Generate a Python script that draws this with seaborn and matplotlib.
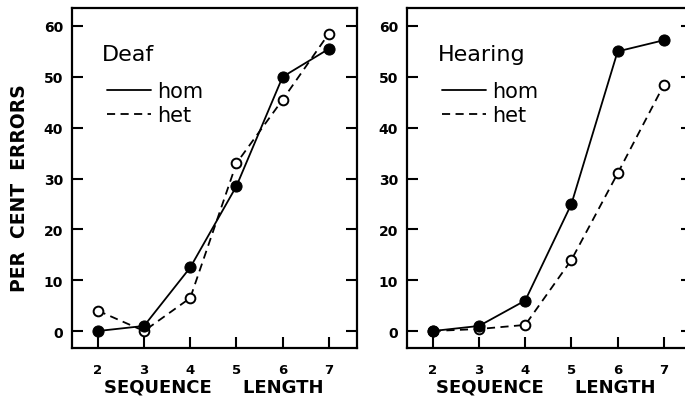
import matplotlib
matplotlib.use("Agg")
import matplotlib.pyplot as plt
from matplotlib.lines import Line2D
import seaborn as sns
import pandas as pd

lengths = [2, 3, 4, 5, 6, 7]
deaf_hom = [0, 1, 12.5, 28.5, 50, 55.5]
deaf_het = [4, 0, 6.5, 33, 45.5, 58.5]
hearing_hom = [0, 1, 6, 25, 55, 57.2]
hearing_het = [0, 0.4, 1.2, 14, 31, 48.4]
y_ticks = [0, 10, 20, 30, 40, 50, 60]
panel_titles = ["Deaf", "Hearing"]
series_labels = ["hom", "het"]

sns.set_theme(style="white")
plt.rcParams['font.family'] = ['DejaVu Sans']
plt.rcParams['text.color'] = 'black'
plt.rcParams['axes.labelcolor'] = 'black'
plt.rcParams['xtick.color'] = 'black'
plt.rcParams['ytick.color'] = 'black'

fig = plt.figure(figsize=(6.85, 4.02), dpi=100)
W, H = 685, 402
ax1 = fig.add_axes([72 / W, 1 - 349 / H, 285 / W, 340 / H])
ax2 = fig.add_axes([407 / W, 1 - 349 / H, 285 / W, 340 / H])

DASH = (0, (4.5, 3))
panels = [(ax1, deaf_hom, deaf_het, panel_titles[0], 0.105),
          (ax2, hearing_hom, hearing_het, panel_titles[1], 0.108)]

for ax, hom, het, title, tx in panels:
    df_hom = pd.DataFrame({"length": lengths, "errors": hom})
    df_het = pd.DataFrame({"length": lengths, "errors": het})
    sns.lineplot(data=df_het, x="length", y="errors", ax=ax, color="black",
                 linewidth=1.3, linestyle=DASH, marker="o",
                 markersize=7, markerfacecolor="white", markeredgecolor="black",
                 markeredgewidth=1.4, zorder=3)
    sns.lineplot(data=df_hom, x="length", y="errors", ax=ax, color="black",
                 linewidth=1.3, marker="o", markersize=8,
                 markerfacecolor="black", markeredgecolor="black", zorder=4)
    ax.set_xlim(1.44, 7.61)
    ax.set_ylim(-3.34, 63.54)
    ax.set_xticks(lengths)
    ax.set_yticks(y_ticks)
    ax.set_xticklabels([str(v) for v in lengths], fontweight="bold", fontsize=9.5)
    ax.set_yticklabels([str(v) for v in y_ticks], fontweight="bold", fontsize=10)
    for s in ax.spines.values():
        s.set_linewidth(1.6)
        s.set_color("black")
        s.set_visible(True)
    ax.tick_params(axis="x", direction="in", length=8, width=1.5, pad=11,
                   colors="black", bottom=True, top=False)
    ax.tick_params(axis="y", direction="in", length=8, width=1.5, pad=6.5,
                   colors="black", left=True, right=True)
    ax.set_xlabel("SEQUENCE     LENGTH", fontweight="bold", fontsize=13)
    ax.set_ylabel("")
    ax.text(tx, 0.865, title, transform=ax.transAxes, fontsize=16,
            ha="left", va="center", color="black")
    handles = [Line2D([], [], color="black", linewidth=1.3),
               Line2D([], [], color="black", linewidth=1.3, linestyle=DASH)]
    ax.legend(handles, series_labels, loc="upper left",
              bbox_to_anchor=(0.123, 0.785), frameon=False, fontsize=15,
              handlelength=2.1, handletextpad=0.3,
              labelspacing=0.18, borderpad=0, borderaxespad=0)

ax1.xaxis.set_label_coords(0.498, -0.088)
ax2.xaxis.set_label_coords(0.486, -0.088)
ax1.set_ylabel("PER  CENT  ERRORS", fontweight="bold", fontsize=13.5)
ax1.yaxis.set_label_coords(-0.15, 0.474)

fig.savefig("out.png", dpi=100)
